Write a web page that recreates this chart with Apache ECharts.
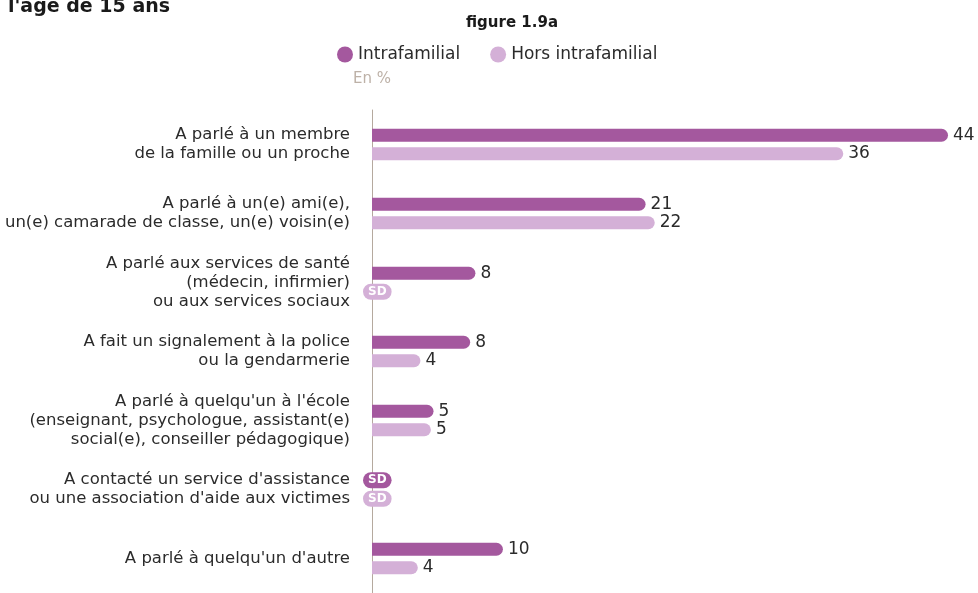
<!DOCTYPE html>
<html>
<head>
<meta charset="utf-8">
<script src="https://cdn.jsdelivr.net/npm/echarts@6/dist/echarts.min.js"></script>
<style>
html,body{margin:0;padding:0;background:#fff;}
#chart{width:978px;height:593px;}
</style>
</head>
<body>
<div id="chart"></div>
<script>
const categories = [
  "A parlé à un membre\nde la famille ou un proche",
  "A parlé à un(e) ami(e),\nun(e) camarade de classe, un(e) voisin(e)",
  "A parlé aux services de santé\n(médecin, infirmier)\nou aux services sociaux",
  "A fait un signalement à la police\nou la gendarmerie",
  "A parlé à quelqu'un à l'école\n(enseignant, psychologue, assistant(e)\nsocial(e), conseiller pédagogique)",
  "A contacté un service d'assistance\nou une association d'aide aux victimes",
  "A parlé à quelqu'un d'autre"
];
// null = SD (secret statistique / données insuffisantes)
const intrafamilial = [44, 20.9, 7.9, 7.5, 4.7, null, 10];
const horsIntrafamilial = [36, 21.6, null, 3.7, 4.5, null, 3.5];
const seriesNames = ["Intrafamilial", "Hors intrafamilial"];
const colors = ["#a4589e", "#d4b0d7"];

const FONT = "'DejaVu Sans', sans-serif";
const TXT = '#2b2b2b';

function buildData(values, color) {
  return values.map(v => {
    if (v === null) {
      return {
        value: 0,
        label: {
          show: true,
          position: 'right',
          distance: 0,
          offset: [-9, 0],
          formatter: 'SD',
          backgroundColor: color,
          borderRadius: 8,
          padding: [2, 5, 2, 5],
          color: '#fff',
          fontWeight: 'bold',
          fontSize: 12,
          lineHeight: 12,
          fontFamily: FONT
        }
      };
    }
    return v;
  });
}

const chart = echarts.init(document.getElementById('chart'));
chart.setOption({
  animation: false,
  textStyle: { fontFamily: FONT },
  title: [
    { text: "l'âge de 15 ans", left: 3, top: -7,
      textStyle: { fontSize: 19, fontWeight: 'bold', color: '#1a1a1a', fontFamily: FONT } },
    { text: "figure 1.9a", left: 507, textAlign: 'center', top: 11,
      textStyle: { fontSize: 15, fontWeight: 'bold', color: '#1a1a1a', fontFamily: FONT } }
  ],
  legend: {
    top: 41,
    left: 332,
    icon: 'circle',
    itemWidth: 16,
    itemHeight: 16,
    itemGap: 30,
    textStyle: { fontSize: 17, color: TXT, fontFamily: FONT },
    data: seriesNames
  },
  grid: { left: 372, right: 30, top: 110, bottom: 0, containLabel: false, outerBoundsMode: 'none' },
  xAxis: {
    type: 'value', min: 0, max: 44,
    show: false
  },
  yAxis: {
    type: 'category',
    inverse: true,
    data: categories,
    name: 'En %',
    nameLocation: 'start',
    nameGap: 23,
    nameTextStyle: { color: '#bdb1a7', fontSize: 15, align: 'center', fontFamily: FONT },
    axisLine: { show: true, lineStyle: { color: '#b5a99e', width: 1 } },
    axisTick: { show: false },
    axisLabel: { fontSize: 16.5, lineHeight: 19, color: TXT, margin: 22, fontFamily: FONT }
  },
  series: [
    {
      name: seriesNames[0], type: 'bar',
      data: buildData(intrafamilial, colors[0]),
      barWidth: 13, barGap: '42%',
      itemStyle: { color: colors[0], borderRadius: [0, 7, 7, 0] },
      label: { show: true, position: 'right', distance: 5, fontSize: 17, color: TXT,
        formatter: p => Math.round(p.value) }
    },
    {
      name: seriesNames[1], type: 'bar',
      data: buildData(horsIntrafamilial, colors[1]),
      barWidth: 13,
      itemStyle: { color: colors[1], borderRadius: [0, 7, 7, 0] },
      label: { show: true, position: 'right', distance: 5, fontSize: 17, color: TXT,
        formatter: p => Math.round(p.value) }
    }
  ]
});
</script>
</body>
</html>
